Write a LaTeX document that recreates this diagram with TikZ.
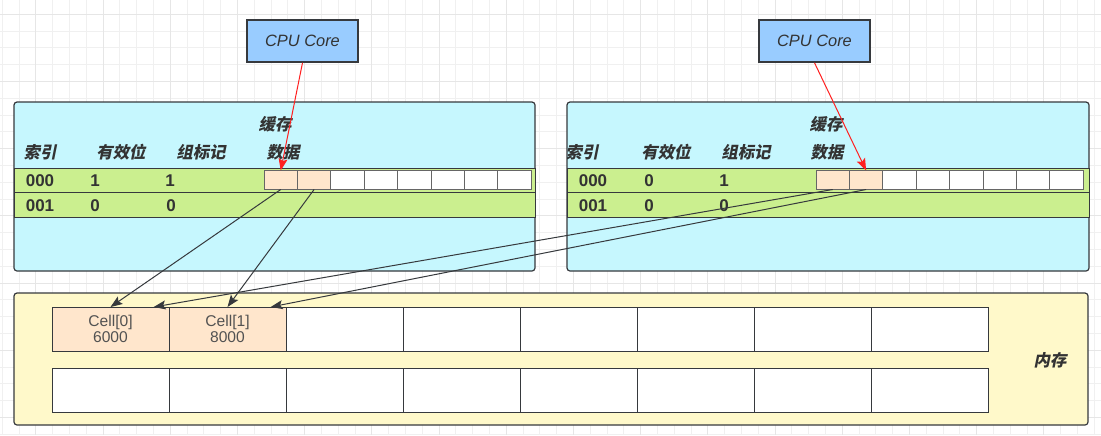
\documentclass[tikz,border=0pt]{standalone}
\usepackage{fontspec}
\setmainfont{Liberation Sans}
\newfontfamily\cjk[UprightFeatures={FakeSlant=0.2}, BoldFeatures={FakeSlant=0.2}]{Noto Sans CJK SC}
\usepackage{tikz}
\usetikzlibrary{arrows.meta}

\definecolor{cpublue}{HTML}{99CCFF}
\definecolor{cachecyan}{HTML}{C6F7FE}
\definecolor{rowgreen}{HTML}{CBEF8F}
\definecolor{memyellow}{HTML}{FFF9CA}
\definecolor{cellpeach}{HTML}{FFE6CC}
\definecolor{edgegray}{HTML}{36393D}
\definecolor{textgray}{HTML}{333333}
\definecolor{gridlight}{HTML}{F0F0F0}
\definecolor{griddark}{HTML}{E6E6E6}
\definecolor{arrowred}{HTML}{FF2020}

\begin{document}
\begin{tikzpicture}[x=0.5pt, y=-0.5pt,
    panel/.style={draw=edgegray, line width=0.6pt, rounded corners=1.5pt},
    cpu/.style={draw=edgegray, line width=0.8pt, fill=cpublue, minimum width=55.5pt,
        minimum height=21pt, inner sep=0pt, text=textgray,
        font=\fontsize{8.2}{9}\selectfont\itshape},
    head/.style={font=\cjk\fontsize{8.2}{9}\selectfont\bfseries, text=textgray, inner sep=0pt},
    val/.style={font=\fontsize{8.5}{9}\selectfont\bfseries, text=textgray, inner sep=0pt},
    slot/.style={draw=gray!80!black, line width=0.5pt, minimum width=16.7pt,
        minimum height=9.5pt, inner sep=0pt, outer sep=0pt},
    cell/.style={draw=edgegray, line width=0.5pt, minimum width=58.5pt, minimum height=22pt,
        inner sep=0pt, outer sep=0pt, align=center, text=textgray!85,
        font=\fontsize{7.8}{8.4}\selectfont},
    redline/.style={draw=arrowred, line width=0.5pt, -{Stealth[length=6pt, width=4.5pt, inset=1.2pt]}},
    memline/.style={draw=edgegray, line width=0.5pt, -{Stealth[length=6pt, width=4.5pt, inset=1.2pt]}}
]
    \useasboundingbox (0,0) rectangle (1101,435);
    \fill[white] (0,0) rectangle (1101,435);

    % background grid
    \foreach \k in {0,...,65}
        \draw[gridlight, line width=0.5pt] ({2.2+16.8*\k},0) -- ({2.2+16.8*\k},435);
    \foreach \k in {0,...,25}
        \draw[gridlight, line width=0.5pt] (0,{14.3+16.8*\k}) -- (1101,{14.3+16.8*\k});
    \foreach \k in {0,...,16}
        \draw[griddark, line width=0.5pt] ({35.8+67.2*\k},0) -- ({35.8+67.2*\k},435);
    \foreach \k in {0,...,6}
        \draw[griddark, line width=0.5pt] (0,{14.3+67.2*\k}) -- (1101,{14.3+67.2*\k});

    % cores
    \node[cpu] (cpu1) at (302.5,41) {CPU Core};
    \node[cpu] (cpu2) at (814.5,41) {CPU Core};

    % caches
    \draw[panel, fill=cachecyan] (14,102) rectangle (535,271);
    \draw[panel, fill=cachecyan] (567,102) rectangle (1089,271);
    \draw[edgegray, line width=0.5pt, fill=rowgreen] (14,168) rectangle (535,192);
    \draw[edgegray, line width=0.5pt, fill=rowgreen] (14,192) rectangle (535,217);
    \draw[edgegray, line width=0.5pt, fill=rowgreen] (567,168) rectangle (1089,192);
    \draw[edgegray, line width=0.5pt, fill=rowgreen] (567,192) rectangle (1089,217);

    \node[head] (lcache) at (275,124) {缓存};
    \node[head] (lidx) at (40,152) {索引};
    \node[head] (lvalid) at (121,152) {有效位};
    \node[head] (ltag) at (201,152) {组标记};
    \node[head] (ldata) at (283,152) {数据};
    \node[val] (lrow0) at (40,181) {000};
    \node[val] (lvalid0) at (95,181) {1};
    \node[val] (ltag0) at (170,181) {1};
    \node[val] (lrow1) at (40,206) {001};
    \node[val] (lvalid1) at (95,206) {0};
    \node[val] (ltag1) at (171,206) {0};

    \node[head] (rcache) at (826,124) {缓存};
    \begin{scope}
        \clip (567,102) rectangle (1089,271);
        \node[head] (ridx) at (582,152) {索引};
    \end{scope}
    \node[head] (rvalid) at (666,152) {有效位};
    \node[head] (rtag) at (746,152) {组标记};
    \node[head] (rdata) at (827,152) {数据};
    \node[val] (rrow0) at (593,181) {000};
    \node[val] (rvalid0) at (649,181) {0};
    \node[val] (rtag0) at (724,181) {1};
    \node[val] (rrow1) at (593,206) {001};
    \node[val] (rvalid1) at (649,206) {0};
    \node[val] (rtag1) at (724,206) {0};

    \foreach \i/\c in {1/cellpeach,2/cellpeach,3/white,4/white,5/white,6/white,7/white,8/white} {
        \node[slot, fill=\c] (lc\i) at ({264+33.4*(\i-0.5)},180) {};
        \node[slot, fill=\c] (rc\i) at ({816+33.4*(\i-0.5)},180) {};
    }

    % memory
    \draw[panel, fill=memyellow] (14,293) rectangle (1088,425);
    \foreach \i/\c/\t in {1/cellpeach/{Cell[0]\\6000},2/cellpeach/{Cell[1]\\8000},3/white/{},
            4/white/{},5/white/{},6/white/{},7/white/{},8/white/{}}
        \node[cell, fill=\c] (m\i) at ({52+117*(\i-0.5)},329) {\t};
    \foreach \i in {1,...,8}
        \node[cell, fill=white] (n\i) at ({52+117*(\i-0.5)},390) {};
    \node[head] (mem) at (1050,360) {内存};

    \draw[redline] (cpu1.south) -- (lc1.north);
    \draw[redline] (cpu2.south) -- (rc2.north);
    \draw[memline] (lc1.south) -- (m1.north);
    \draw[memline] (lc2.south) -- (m2.north);
    \draw[memline] (rc1.south) -- (m1.27);
    \draw[memline] (rc2.south) -- (m2.27);
\end{tikzpicture}
\end{document}
